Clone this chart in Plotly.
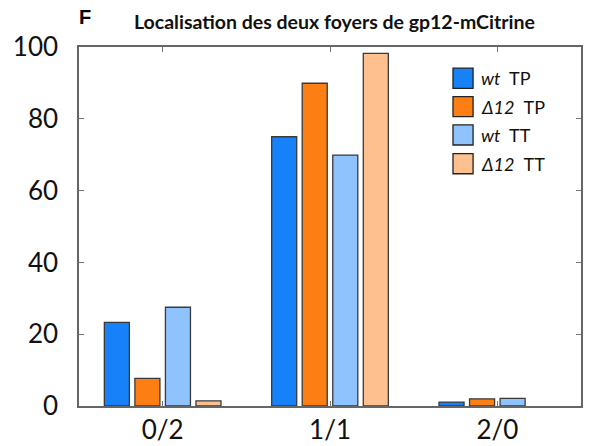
import plotly.graph_objects as go

# Categories and measured percentages for each strain / condition
categories = ["0/2", "1/1", "2/0"]
series_names = ["<i>wt</i>  TP", "<i>Δ12</i>  TP", "<i>wt</i>  TT", "<i>Δ12</i>  TT"]
wt_tp = [23.3, 75.0, 1.1]
d12_tp = [7.7, 89.9, 2.0]
wt_tt = [27.5, 69.9, 2.1]
d12_tt = [1.4, 98.2, 0.0]
y_ticks = [0, 20, 40, 60, 80, 100]

series_values = [wt_tp, d12_tp, wt_tt, d12_tt]
colors = ["#1681f9", "#fd7f13", "#8ec3fd", "#fec08f"]

FONT = "Lato, 'Open Sans', sans-serif"

fig = go.Figure()
for name, vals, col in zip(series_names, series_values, colors):
    # empty bars (value 0) get no outline
    widths = [1.3 if v > 0 else 0 for v in vals]
    fig.add_trace(go.Bar(
        x=categories, y=vals, name=name,
        marker=dict(color=col, line=dict(color="#3a3a3a", width=widths)),
        showlegend=False,
    ))

# Legend drawn as boxes + labels inside the plot area
row_y = [0.913, 0.834, 0.755, 0.675]
for name, col, yy in zip(series_names, colors, row_y):
    fig.add_shape(type="rect", xref="paper", yref="paper",
                  x0=0.745, x1=0.785, y0=yy - 0.028, y1=yy + 0.028,
                  fillcolor=col, line=dict(color="#222222", width=1.3))
    fig.add_annotation(xref="paper", yref="paper", x=0.797, y=yy,
                       text=name, showarrow=False, xanchor="left", yanchor="middle",
                       font=dict(family=FONT, size=18, color="#111111"))

# Panel letter and title
fig.add_annotation(xref="paper", yref="paper", x=-0.004, y=1.084,
                   text="<b>F</b>", showarrow=False, xanchor="left", yanchor="middle",
                   font=dict(family="Liberation Sans, Arial, sans-serif", size=20, color="#000"))
fig.add_annotation(xref="paper", yref="paper", x=0.508, y=1.072,
                   text="<b>Localisation des deux foyers de gp12-mCitrine</b>",
                   showarrow=False, xanchor="center", yanchor="middle",
                   font=dict(family=FONT, size=19.5, color="#111"))

fig.update_layout(
    width=593, height=446,
    margin=dict(l=79, r=12, t=47, b=40, autoexpand=False),
    paper_bgcolor="white", plot_bgcolor="white",
    barmode="group", bargap=0.27, bargroupgap=0.18,
    font=dict(family=FONT, color="#111"),
)
fig.update_xaxes(
    range=[-0.5, 2.5], showline=True, linecolor="#666", linewidth=1.5,
    mirror="ticks", ticks="inside", ticklen=5, tickcolor="#777",
    tickfont=dict(family=FONT, size=26, color="#111"),
    showgrid=False, zeroline=False, ticklabelstandoff=0, automargin=False,
)
fig.update_yaxes(
    range=[0, 100], tickvals=y_ticks, showline=True, linecolor="#666", linewidth=1.5,
    mirror="ticks", ticks="inside", ticklen=5, tickcolor="#777",
    tickfont=dict(family=FONT, size=26, color="#111"),
    showgrid=False, zeroline=False, ticklabelstandoff=14, automargin=False,
)

fig.write_html("out.html")
